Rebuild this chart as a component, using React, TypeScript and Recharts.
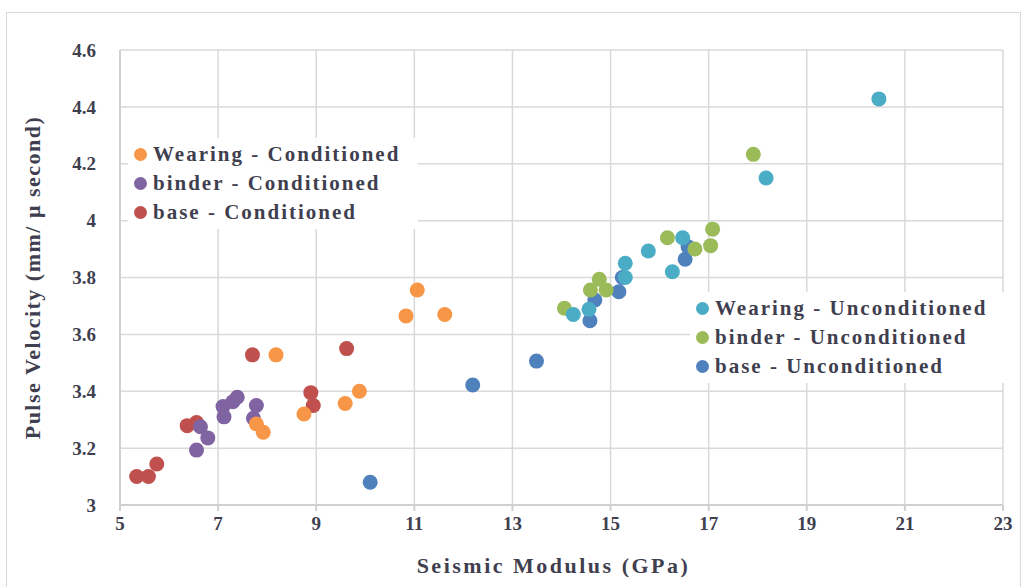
import { CartesianGrid, Scatter, ScatterChart, XAxis, YAxis } from "recharts";

// [seismic modulus GPa, pulse velocity mm/µs]
const wearingCond = [
  [7.78, 3.285], [7.92, 3.256], [8.18, 3.528], [8.75, 3.32], [9.59, 3.357],
  [9.88, 3.4], [10.83, 3.665], [11.06, 3.756], [11.62, 3.67],
];
const binderCond = [
  [6.56, 3.193], [6.79, 3.236], [6.64, 3.275], [7.12, 3.31], [7.1, 3.346],
  [7.3, 3.363], [7.39, 3.379], [7.78, 3.35], [7.72, 3.305],
];
const baseCond = [
  [5.34, 3.1], [5.58, 3.1], [5.75, 3.144], [6.37, 3.279], [6.56, 3.29],
  [7.7, 3.528], [8.89, 3.395], [8.94, 3.35], [9.62, 3.55],
];
const wearingUncond = [
  [14.24, 3.67], [14.56, 3.688], [15.3, 3.8], [15.3, 3.85], [15.77, 3.893],
  [16.26, 3.82], [16.47, 3.94], [18.17, 4.15], [20.47, 4.428],
];
const binderUncond = [
  [14.06, 3.692], [14.59, 3.756], [14.77, 3.794], [14.91, 3.756], [16.16, 3.94],
  [16.72, 3.9], [17.04, 3.912], [17.08, 3.97], [17.91, 4.233],
];
const baseUncond = [
  [10.1, 3.08], [12.19, 3.422], [13.49, 3.506], [14.58, 3.648], [14.68, 3.721],
  [15.17, 3.75], [15.24, 3.8], [16.52, 3.864], [16.58, 3.908],
];

const xTicks = [5, 7, 9, 11, 13, 15, 17, 19, 21, 23];
const yTicks = [3, 3.2, 3.4, 3.6, 3.8, 4, 4.2, 4.4, 4.6];

const condSeries = [
  { name: "Wearing - Conditioned", color: "#F79646", data: wearingCond },
  { name: "binder - Conditioned", color: "#8064A2", data: binderCond },
  { name: "base - Conditioned", color: "#C0504D", data: baseCond },
];
const uncondSeries = [
  { name: "Wearing - Unconditioned", color: "#4BACC6", data: wearingUncond },
  { name: "binder - Unconditioned", color: "#9BBB59", data: binderUncond },
  { name: "base - Unconditioned", color: "#4F81BD", data: baseUncond },
];

const font = "'Liberation Serif', 'Times New Roman', serif";
const textColor = "#3f3f4f";

const toPts = (arr: number[][]) => arr.map(([x, y]) => ({ x, y }));

const Dot = (props: any) => (
  <circle cx={props.cx} cy={props.cy} r={7.5} fill={props.fill} />
);

function LegendBox({
  items,
  style,
}: {
  items: { name: string; color: string }[];
  style: React.CSSProperties;
}) {
  return (
    <div
      style={{
        position: "absolute",
        background: "#fff",
        fontFamily: font,
        fontWeight: 700,
        fontSize: 21,
        letterSpacing: 2,
        color: textColor,
        ...style,
      }}
    >
      {items.map((s) => (
        <div key={s.name} style={{ display: "flex", alignItems: "center", height: 29 }}>
          <span
            style={{
              width: 13,
              height: 13,
              borderRadius: 7,
              background: s.color,
              marginRight: 6,
              flex: "none",
            }}
          />
          {s.name}
        </div>
      ))}
    </div>
  );
}

export default function App() {
  // draw order: base, binder, wearing (wearing sits on top where points overlap)
  const drawOrder = [
    ...[...condSeries].reverse(),
    ...[...uncondSeries].reverse(),
  ];
  return (
    <div
      style={{
        position: "absolute",
        left: 0,
        top: 0,
        width: 1024,
        height: 587,
        background: "#fff",
        overflow: "hidden",
      }}
    >
      <div
        style={{
          position: "absolute",
          left: 6,
          top: 12,
          width: 1013,
          height: 580,
          border: "1px solid #d9d9d9",
        }}
      />
      <ScatterChart
        width={1024}
        height={587}
        margin={{ top: 50, right: 21, bottom: 0, left: 0 }}
        style={{ position: "absolute", left: 0, top: 0 }}
      >
        <CartesianGrid stroke="#d9d9d9" strokeWidth={1.5} />
        <XAxis
          type="number"
          dataKey="x"
          domain={[5, 23]}
          ticks={xTicks}
          height={82}
          stroke="#d0d0d0"
          strokeWidth={2}
          tickSize={6}
          tickMargin={6}
          tick={{ fill: textColor, fontFamily: font, fontWeight: 700, fontSize: 19 }}
          label={{
            value: "Seismic Modulus  (GPa)",
            position: "insideBottom",
            offset: 14,
            dx: -8,
            fill: textColor,
            fontFamily: font,
            fontWeight: 700,
            fontSize: 22,
            letterSpacing: 2.5,
          }}
        />
        <YAxis
          type="number"
          dataKey="y"
          domain={[3, 4.6]}
          ticks={yTicks}
          width={120}
          stroke="#d0d0d0"
          strokeWidth={2}
          tickLine={false}
          tickMargin={18}
          tick={{ fill: textColor, fontFamily: font, fontWeight: 700, fontSize: 19 }}
          label={{
            value: "Pulse Velocity (mm/ \u03bc second)",
            angle: -90,
            position: "insideLeft",
            offset: 32,
            style: { textAnchor: "middle" },
            fill: textColor,
            fontFamily: font,
            fontWeight: 700,
            fontSize: 22,
            letterSpacing: 1.5,
          }}
        />
        {drawOrder.map((s) => (
          <Scatter
            key={s.name}
            name={s.name}
            data={toPts(s.data)}
            fill={s.color}
            shape={Dot}
            isAnimationActive={false}
          />
        ))}
      </ScatterChart>
      <LegendBox items={condSeries} style={{ left: 128, top: 138, width: 284, padding: "2px 0 2px 6px" }} />
      <LegendBox items={uncondSeries} style={{ left: 690, top: 292, width: 310, padding: "2px 0 2px 6px" }} />
    </div>
  );
}
